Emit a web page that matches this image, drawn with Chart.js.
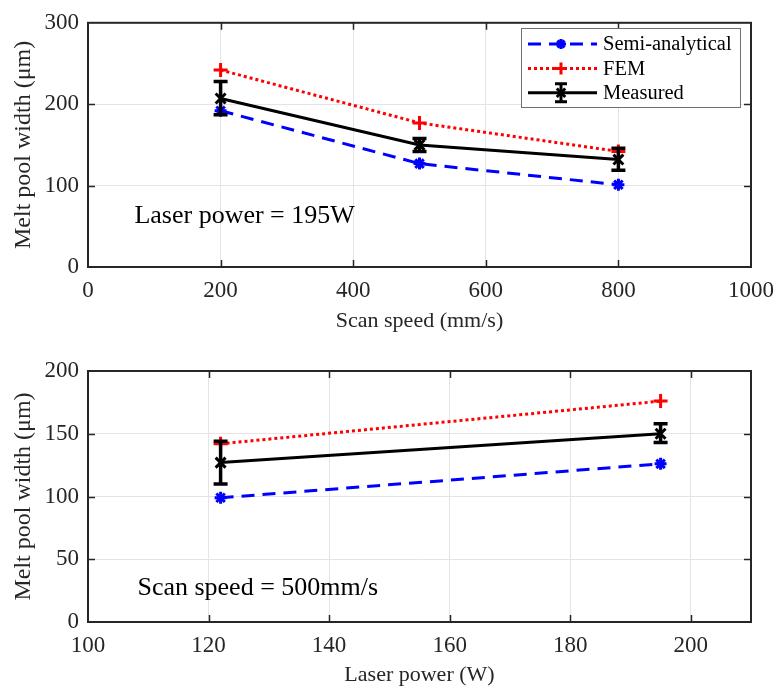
<!DOCTYPE html>
<html lang="en">
<head>
<meta charset="UTF-8">
<title>Melt pool width</title>
<script src="https://cdn.jsdelivr.net/npm/chart.js@4"></script>
<style>
    body { margin: 0; background: #fff; }
    .panel { position: absolute; left: 0; width: 776px; }
</style>
</head>
<body>
<div class="panel" style="top:0;height:345px"><canvas id="speedChart" width="776" height="345"></canvas></div>
<div class="panel" style="top:345px;height:344px"><canvas id="powerChart" width="776" height="344"></canvas></div>
<script>
// --- data ---
const seriesNames = ['Semi-analytical', 'FEM', 'Measured'];

// top: laser power = 195 W, varying scan speed
const scanSpeed = [200, 500, 800];
const semiBySpeed = [192, 127, 101];
const femBySpeed = [242, 177, 142];
const measBySpeed = [207, 150, 132];
const measBySpeedLow = [187, 142, 119];
const measBySpeedHigh = [228, 158, 146];

// bottom: scan speed = 500 mm/s, varying laser power
const laserPower = [122, 195];
const semiByPower = [99, 126];
const femByPower = [142, 176];
const measByPower = [127, 150];
const measByPowerLow = [110, 143];
const measByPowerHigh = [144, 158];

const FONT = "'Liberation Serif', 'Times New Roman', serif";
const INK = '#262626';

function pts(xs, ys) {
    return xs.map((x, i) => ({ x: x, y: ys[i] }));
}

function makeDatasets(xs, semi, fem, meas, low, high) {
    return [
        { label: seriesNames[0], data: pts(xs, semi), borderColor: '#0000ff', backgroundColor: '#0000ff',
          borderWidth: 3, borderDash: [13, 8], pointStyle: 'star', pointRadius: 6, pointBorderWidth: 3, order: 3 },
        { label: seriesNames[1], data: pts(xs, fem), borderColor: '#ff0000', backgroundColor: '#ff0000',
          borderWidth: 3, borderDash: [3, 3], pointStyle: 'cross', pointRadius: 7, pointBorderWidth: 3, order: 2 },
        { label: seriesNames[2], data: pts(xs, meas), errLow: low, errHigh: high, borderColor: '#000', backgroundColor: '#000',
          borderWidth: 3, pointStyle: 'crossRot', pointRadius: 7, pointBorderWidth: 3, order: 1 }
    ];
}

function errorBar(ctx, x, y1, y2, cap) {
    ctx.beginPath();
    ctx.moveTo(x, y1); ctx.lineTo(x, y2);
    ctx.moveTo(x - cap, y1); ctx.lineTo(x + cap, y1);
    ctx.moveTo(x - cap, y2); ctx.lineTo(x + cap, y2);
    ctx.stroke();
}

// box axes with inward ticks, error bars, text note and boxed legend
const matlabLook = {
    id: 'matlabLook',
    afterDatasetsDraw(chart) {
        const ctx = chart.ctx;
        const xs = chart.scales.x, ys = chart.scales.y;
        chart.data.datasets.forEach(ds => {
            if (!ds.errLow) return;
            ctx.save();
            ctx.strokeStyle = ds.borderColor;
            ctx.lineWidth = 3.5;
            ds.data.forEach((p, i) => {
                const px = xs.getPixelForValue(p.x);
                errorBar(ctx, px, ys.getPixelForValue(ds.errHigh[i]), ys.getPixelForValue(ds.errLow[i]), 7);
            });
            ctx.restore();
        });
    },
    afterDraw(chart, args, opts) {
        const ctx = chart.ctx;
        const a = chart.chartArea;
        const xs = chart.scales.x, ys = chart.scales.y;
        ctx.save();
        ctx.strokeStyle = INK;
        ctx.lineWidth = 1.5;
        ctx.beginPath();
        xs.ticks.forEach(t => {
            const px = Math.round(xs.getPixelForValue(t.value)) + 0.5;
            if (px <= a.left + 2 || px >= a.right - 2) return;
            ctx.moveTo(px, a.bottom); ctx.lineTo(px, a.bottom - 7);
            ctx.moveTo(px, a.top); ctx.lineTo(px, a.top + 7);
        });
        ys.ticks.forEach(t => {
            const py = Math.round(ys.getPixelForValue(t.value)) + 0.5;
            if (py <= a.top + 2 || py >= a.bottom - 2) return;
            ctx.moveTo(a.left, py); ctx.lineTo(a.left + 7, py);
            ctx.moveTo(a.right, py); ctx.lineTo(a.right - 7, py);
        });
        ctx.stroke();
        ctx.lineWidth = 2;
        ctx.strokeRect(a.left, a.top, a.right - a.left, a.bottom - a.top);

        if (opts.note) {
            ctx.fillStyle = '#000';
            ctx.font = '26px ' + FONT;
            ctx.textAlign = 'left';
            ctx.textBaseline = 'middle';
            ctx.fillText(opts.note.text, xs.getPixelForValue(opts.note.x), ys.getPixelForValue(opts.note.y));
        }

        if (opts.legend) {
            const L = opts.legend;
            ctx.fillStyle = '#fff';
            ctx.fillRect(L.x, L.y, L.w, L.h);
            ctx.strokeStyle = '#707070';
            ctx.lineWidth = 1;
            ctx.strokeRect(L.x + 0.5, L.y + 0.5, L.w, L.h);
            chart.data.datasets.forEach((ds, i) => {
                const cy = L.y + 16 + i * 24.4;
                ctx.save();
                ctx.strokeStyle = ds.borderColor;
                ctx.fillStyle = ds.backgroundColor;
                ctx.lineWidth = ds.borderWidth;
                ctx.setLineDash(ds.borderDash || []);
                ctx.beginPath();
                ctx.moveTo(L.x + 7, cy); ctx.lineTo(L.x + 76, cy);
                ctx.stroke();
                ctx.setLineDash([]);
                const mx = L.x + 40;
                Chart.helpers.drawPoint(ctx, { pointStyle: ds.pointStyle, radius: ds.pointRadius - 1, rotation: 0, borderWidth: ds.pointBorderWidth }, mx, cy);
                if (ds.errLow) errorBar(ctx, mx, cy - 9, cy + 9, 6);
                ctx.restore();
                ctx.fillStyle = '#000';
                ctx.font = '20.5px ' + FONT;
                ctx.textAlign = 'left';
                ctx.textBaseline = 'middle';
                ctx.fillText(ds.label, L.x + 82, cy + 1);
            });
        }
        ctx.restore();
    }
};

function axisX(min, max, step, title, boxH, titlePad) {
    return {
        type: 'linear', min: min, max: max,
        ticks: { stepSize: step, includeBounds: false, padding: 10, maxRotation: 0, color: INK,
                 font: { family: FONT, size: 23 }, callback: v => String(v) },
        grid: { color: '#e4e4e4', lineWidth: 1, drawTicks: false },
        border: { display: false },
        title: { display: true, text: title, color: INK, font: { family: FONT, size: 22 }, padding: { top: 0, bottom: titlePad } },
        // fixed box height; end labels may spill into the page margin
        afterFit(s) { s.height = boxH; s.paddingLeft = 0; s.paddingRight = 0; }
    };
}

function axisY(min, max, step) {
    return {
        type: 'linear', min: min, max: max,
        ticks: { stepSize: step, padding: 9, color: INK, font: { family: FONT, size: 23 }, callback: v => String(v) },
        grid: { color: '#e4e4e4', lineWidth: 1, drawTicks: false },
        border: { display: false },
        title: { display: true, text: 'Melt pool width (μm)', color: INK, font: { family: FONT, size: 24 }, padding: { top: 9, bottom: 0 } },
        afterFit(s) { s.width = 88; }
    };
}

function makeChart(id, datasets, xAxis, yAxis, padTop, extras) {
    return new Chart(document.getElementById(id), {
        type: 'line',
        data: { datasets: datasets },
        options: {
            responsive: false,
            animation: false,
            devicePixelRatio: 1,
            events: [],
            layout: { padding: { top: padTop, right: 25, left: 0, bottom: 0 } },
            scales: { x: xAxis, y: yAxis },
            plugins: { legend: { display: false }, tooltip: { enabled: false }, matlabLook: extras }
        },
        plugins: [matlabLook]
    });
}

makeChart('speedChart',
    makeDatasets(scanSpeed, semiBySpeed, femBySpeed, measBySpeed, measBySpeedLow, measBySpeedHigh),
    axisX(0, 1000, 200, 'Scan speed (mm/s)', 78, 11),
    axisY(0, 300, 100),
    17,
    { note: { text: 'Laser power = 195W', x: 70, y: 62 }, legend: { x: 521, y: 28, w: 219, h: 79 } });

makeChart('powerChart',
    makeDatasets(laserPower, semiByPower, femByPower, measByPower, measByPowerLow, measByPowerHigh),
    axisX(100, 210, 20, 'Laser power (W)', 67, 1),
    axisY(0, 200, 50),
    26,
    { note: { text: 'Scan speed = 500mm/s', x: 108.2, y: 27 } });
</script>
</body>
</html>
